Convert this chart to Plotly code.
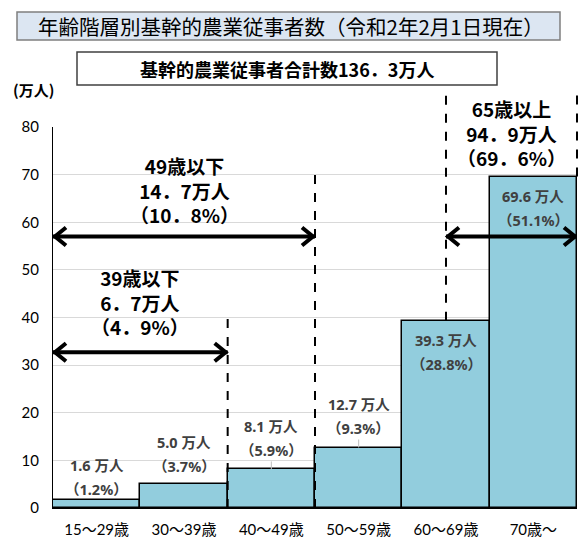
import plotly.graph_objects as go

# ---- data ----
categories = ['15～29歳', '30～39歳', '40～49歳', '50～59歳', '60～69歳', '70歳～']
values = [1.6, 5.0, 8.1, 12.7, 39.3, 69.6]
shares = [1.2, 3.7, 5.9, 9.3, 28.8, 51.1]
y_ticks = [0, 10, 20, 30, 40, 50, 60, 70, 80]

title_text = '年齢階層別基幹的農業従事者数（令和2年2月1日現在）'
total_text = '基幹的農業従事者合計数136．3万人'
unit_text = '(万人)'

group49_lines = ['49歳以下', '14．7万人', '（10．8%）']
group39_lines = ['39歳以下', '6．7万人', '（4．9%）']
group65_lines = ['65歳以上', '94．9万人', '（69．6%）']

# ---- styling / layout constants ----
W, H = 586, 546
ML, MR, MT, MB = 53, 9, 127, 38
YMAX = 80
N = len(categories)
BAR_COLOR = '#92CDDD'
CJK = 'Noto Sans CJK JP'
LAT = 'Lato, Noto Sans CJK JP'
LABEL_FAMILY = 'Noto Sans, Noto Sans CJK JP'
LABEL_COLOR = '#404040'

x = list(range(N))
fig = go.Figure()
fig.add_trace(go.Bar(
    x=x, y=values, width=1.0,
    marker=dict(color=BAR_COLOR, line=dict(color='#000000', width=1.5)),
    hoverinfo='skip',
))

ann = []
shapes = []

# bar labels
label_mode = ['above', 'above', 'above', 'above', 'inside', 'inside']
above_shift = [0, 7, 8, 9, 0, 0]
lab_font = dict(family=LABEL_FAMILY, size=14.5, color=LABEL_COLOR, weight=700)
for i, (v, s) in enumerate(zip(values, shares)):
    l1 = f'{v:.1f} 万人'
    l2 = f'（{s:.1f}%）'
    if label_mode[i] == 'above':
        b = above_shift[i]
        sh1, sh2 = b + 35, b + 11
    else:
        sh1, sh2 = -19, -43
    ann.append(dict(x=i, y=v, xref='x', yref='y', text=l1, showarrow=False,
                    xanchor='center', yanchor='middle', yshift=sh1, font=lab_font))
    ann.append(dict(x=i, y=v, xref='x', yref='y', text=l2, showarrow=False,
                    xanchor='center', yanchor='middle', yshift=sh2, font=lab_font))

# small leader ticks above bars 3 and 4
for i in (2, 3):
    shapes.append(dict(type='line', xref='x', yref='y', x0=i, x1=i,
                       ysizemode='pixel', yanchor=values[i], y0=0, y1=8,
                       line=dict(color='#bfbfbf', width=1)))

# dashed boundary lines
dash = dict(color='#000000', width=2, dash='dash')
shapes.append(dict(type='line', xref='x', yref='y', x0=1.5, x1=1.5, y0=0, y1=40.5, line=dash))
shapes.append(dict(type='line', xref='x', yref='y', x0=2.5, x1=2.5, y0=0, y1=71, line=dash))
top65 = 86.7
shapes.append(dict(type='line', xref='x domain', yref='paper',
                   x0=(4 + 0.5) / N, x1=(4 + 0.5) / N,
                   y0=values[4] / YMAX, y1=top65 / YMAX, line=dash))
shapes.append(dict(type='line', xref='x domain', yref='paper',
                   x0=1.0, x1=1.0,
                   y0=values[5] / YMAX, y1=top65 / YMAX, line=dash))

# double arrows
def double_arrow(xa, xb, yv):
    lw = 4
    shapes.append(dict(type='line', xref='x', yref='y', x0=xa, x1=xb, y0=yv, y1=yv,
                       line=dict(color='#000000', width=lw)))
    shapes.append(dict(type='path', xref='x', yref='y', xsizemode='pixel', ysizemode='pixel',
                       xanchor=xa, yanchor=yv, path='M 13,-9 L 2,0 L 13,9',
                       line=dict(color='#000000', width=lw)))
    shapes.append(dict(type='path', xref='x', yref='y', xsizemode='pixel', ysizemode='pixel',
                       xanchor=xb, yanchor=yv, path='M -13,-9 L -2,0 L -13,9',
                       line=dict(color='#000000', width=lw)))

arrow49_y, arrow39_y, arrow65_y = 57, 32.7, 57
double_arrow(-0.5, 2.5, arrow49_y)
double_arrow(-0.5, 1.5, arrow39_y)
double_arrow(4.0, 5.5, arrow65_y)

def group_text(lines, xc, yv, mid_shift):
    ann.append(dict(x=xc, y=yv, xref='x', yref='y', text='<br>'.join(lines), showarrow=False,
                    xanchor='center', yanchor='middle', yshift=mid_shift, align='center',
                    font=dict(family=CJK, size=19, color='#000000', weight='bold')))

group_text(group49_lines, 1.0, arrow49_y, 47)
group_text(group39_lines, 0.5, arrow39_y, 50)
group_text(group65_lines, 4.75, arrow65_y, 104)

# title boxes (paper coordinates)
pw = W - ML - MR
ph = H - MT - MB
def px_x(p):
    return (p - ML) / pw
def px_y(p):
    return (H - MB - p) / ph

shapes.append(dict(type='rect', xref='paper', yref='paper',
                   x0=px_x(17), x1=px_x(560), y0=px_y(40), y1=px_y(12),
                   fillcolor='#DCE6F2', line=dict(color='#7F7F7F', width=1.5), layer='above'))
ann.append(dict(x=px_x(291), y=px_y(26), xref='paper', yref='paper', text=title_text,
                xanchor='center', yanchor='middle',
                showarrow=False, font=dict(family=CJK, size=20.5, color='#000000')))
shapes.append(dict(type='rect', xref='paper', yref='paper',
                   x0=px_x(77), x1=px_x(497), y0=px_y(85), y1=px_y(52),
                   fillcolor='#FFFFFF', line=dict(color='#404040', width=1.5), layer='above'))
ann.append(dict(x=px_x(287), y=px_y(69), xref='paper', yref='paper', text=total_text,
                xanchor='center', yanchor='middle',
                showarrow=False, font=dict(family=CJK, size=18, color='#000000', weight='bold')))
ann.append(dict(x=px_x(33), y=px_y(89), xref='paper', yref='paper', text=unit_text,
                xanchor='center', yanchor='middle',
                showarrow=False, font=dict(family=CJK, size=15, color='#000000', weight='bold')))

fig.update_layout(
    width=W, height=H,
    margin=dict(l=ML, r=MR, t=MT, b=MB),
    paper_bgcolor='#FFFFFF', plot_bgcolor='#FFFFFF',
    showlegend=False, bargap=0,
    shapes=shapes, annotations=ann,
    xaxis=dict(range=[-0.5, N - 0.5], tickmode='array', tickvals=x, ticktext=categories,
               showgrid=False, zeroline=False, showline=True, linecolor='#000000', linewidth=1,
               ticks='', ticklabelstandoff=8,
               tickfont=dict(family=LAT, size=15, color='#000000'), fixedrange=True),
    yaxis=dict(range=[0, YMAX], tickmode='array', tickvals=y_ticks,
               showgrid=True, gridcolor='#D9D9D9', gridwidth=1, zeroline=False,
               showline=True, linecolor='#000000', linewidth=1, ticks='',
               ticklabelstandoff=10,
               tickfont=dict(family=LAT, size=15, color='#000000'), fixedrange=True),
)

fig.write_html('out.html', config={'displayModeBar': False},
               post_script="document.body.style.margin='0';")
